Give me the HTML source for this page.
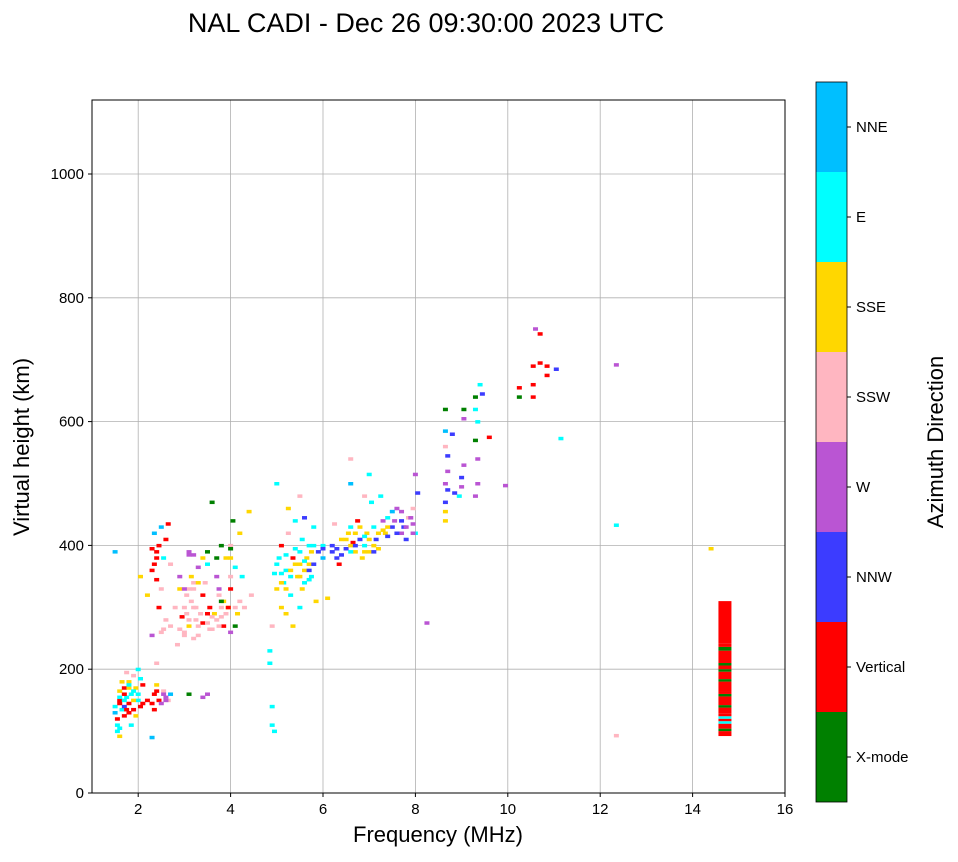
<!DOCTYPE html>
<html><head><meta charset="utf-8"><style>
body{margin:0;background:#fff;}
svg{font-family:"Liberation Sans","DejaVu Sans",sans-serif;}
</style></head><body>
<svg id="chart" width="958" height="857" xmlns="http://www.w3.org/2000/svg">
<text x="426" y="32" font-size="27" text-anchor="middle">NAL CADI - Dec 26 09:30:00 2023 UTC</text>
<g id="grid"></g>
<g id="marks"></g>
<rect x="92" y="100" width="693" height="693" fill="none" stroke="#000" stroke-width="1"/>
<g id="axes"></g>
<text x="438" y="842" font-size="22" text-anchor="middle">Frequency (MHz)</text>
<text transform="translate(29,447) rotate(-90)" font-size="22" text-anchor="middle">Virtual height (km)</text>
<g id="cbar"></g>
<text transform="translate(943,442) rotate(-90)" font-size="22" text-anchor="middle">Azimuth Direction</text>
</svg>
<script>
const dirLabels=["X-mode","Vertical","NNW","W","SSW","SSE","E","NNE"];
const dirColors=["#008000","#ff0000","#3c3cff","#ba55d3","#ffb6c1","#ffd700","#00ffff","#00bfff"];
const xTicks=[2,4,6,8,10,12,14,16];
const yTicks=[0,200,400,600,800,1000];
const freqs=[1.5,1.5,1.55,1.6,1.6,1.65,1.7,1.7,1.75,1.8,1.8,1.85,1.9,1.9,1.95,2.0,2.0,2.05,2.1,1.55,1.6,2.3,2.3,2.35,2.4,2.4,2.45,2.5,2.55,2.6,2.7,2.65,3.4,3.5,3.1,1.7,1.8,1.95,1.65,1.75,2.05,1.85,
2.35,2.4,2.45,2.5,2.55,2.6,2.65,2.7,2.3,2.4,2.5,2.45,2.5,2.7,2.3,2.2,2.05,1.5,2.8,2.9,2.95,3.0,3.05,3.1,3.1,3.2,3.25,3.3,3.3,3.4,3.45,3.5,3.55,3.6,3.65,3.7,3.75,3.8,3.85,3.9,3.95,4.0,4.0,4.05,4.1,4.15,4.2,4.25,4.3,3.6,3.2,3.4,2.85,4.4,4.45,4.0,3.85,2.9,
4.85,4.85,4.9,4.95,5.0,5.05,5.1,5.1,5.15,5.2,5.2,5.25,5.3,5.35,5.35,5.4,5.45,5.5,5.5,5.55,5.6,5.65,5.7,5.75,5.8,5.85,5.9,6.0,6.1,5.5,4.9,4.9,5.0,5.6,5.25,4.95,
6.2,6.3,6.35,6.4,6.5,6.55,6.6,6.65,6.7,6.75,6.8,6.85,6.9,6.95,7.0,7.05,7.1,7.15,7.2,7.3,7.35,7.4,7.5,7.6,7.7,7.8,7.85,7.95,8.0,7.95,8.0,6.6,6.6,6.9,7.0,7.25,7.5,8.05,8.25,6.25,
8.65,8.65,8.65,8.7,8.65,8.7,8.7,8.65,8.65,8.65,8.8,9.0,9.0,9.05,8.95,8.85,9.05,9.05,9.3,9.3,9.35,9.3,9.35,9.35,9.3,9.4,9.45,9.6,9.95,
10.25,10.25,10.55,10.55,10.55,10.6,10.7,10.7,10.85,10.85,11.05,11.15,12.35,12.35,12.35,14.4];
const heights=[130,140,120,150,165,135,170,125,155,180,145,160,190,135,170,150,200,140,175,100,92,90,145,160,210,175,150,145,165,155,160,150,155,160,160,140,130,125,180,195,185,110,
420,390,400,430,380,410,435,370,360,345,330,300,260,270,255,320,350,390,300,330,285,260,320,390,270,330,300,365,255,275,340,370,300,265,290,350,320,285,270,380,300,400,330,440,365,290,420,350,300,470,250,380,240,455,320,260,310,350,
210,230,270,355,330,380,300,400,340,290,360,420,320,380,270,440,350,300,370,410,340,380,400,350,430,310,390,380,315,480,140,110,500,445,460,100,
400,380,370,410,395,420,430,405,390,440,410,380,400,420,390,470,430,410,395,440,420,415,430,460,420,410,445,435,420,460,515,540,500,480,515,480,455,485,275,435,
440,455,470,490,500,520,545,560,585,620,580,495,510,530,480,485,620,605,640,620,600,570,540,500,480,660,645,575,497,
655,640,690,660,640,750,695,742,690,675,685,573,692,433,93,395];
const dirs=[7,6,1,1,5,6,1,1,6,5,1,6,4,1,5,6,6,1,1,6,5,7,1,1,4,5,1,3,4,3,7,4,3,3,0,2,1,5,5,4,6,6,
7,1,1,7,6,1,1,4,1,1,4,1,4,4,3,5,5,7,4,5,1,4,4,3,5,4,4,3,4,1,4,6,1,4,5,3,4,4,1,5,5,4,1,0,6,5,5,6,4,0,4,5,4,5,4,3,5,3,
6,6,4,6,5,6,5,1,6,5,6,4,6,1,5,6,5,6,5,6,6,5,6,6,6,5,2,7,5,4,6,6,6,2,5,6,
2,2,1,5,2,5,6,1,5,1,2,5,6,5,5,6,6,2,5,3,5,2,2,3,3,2,4,3,6,4,3,4,7,4,6,6,7,2,3,4,
5,5,2,2,3,3,2,4,7,0,2,3,2,3,6,2,0,3,0,6,6,0,3,3,3,6,2,1,3,
1,0,1,1,1,3,1,1,1,1,2,6,3,6,4,5];
const freqs2=[3.0,3.05,3.1,3.15,3.2,3.25,3.3,3.35,3.1,3.2,3.5,3.55,3.6,3.7,3.75,3.8,2.9,3.0,2.6,2.55,3.9,4.1,4.2,4.0,
2.4,2.35,2.3,3.4,3.5,3.95,1.6,1.7,1.75,2.1,2.2,2.4,2.35,
5.1,5.2,5.3,5.4,5.5,5.55,5.6,5.7,5.75,6.5,6.6,6.7,6.8,6.9,7.0,7.1,7.2,7.3,7.4,1.8,1.9,3.15,3.3,4.0,
5.0,5.1,5.2,5.3,5.4,5.5,5.6,5.7,5.8,6.0,6.6,6.9,7.4,1.6,1.7,1.8,1.9,2.0,1.55,1.6,
6.2,6.3,6.4,6.7,7.1,7.6,7.7,7.75,5.7,5.8,6.0,
7.7,7.8,7.9,7.95,7.55,3.1,3.2,2.6,2.55,3.75,3.0,
3.5,3.7,3.8,4.0,4.1,3.8];
const heights2=[300,290,280,310,300,280,270,290,330,340,275,265,285,280,270,300,265,255,280,265,290,300,310,350,
380,370,395,320,290,300,145,160,135,145,150,165,135,
340,330,360,370,350,330,360,370,390,410,400,420,430,390,410,400,420,425,430,170,150,350,340,380,
370,355,385,350,395,390,375,345,400,400,390,415,445,155,150,175,165,160,110,105,
390,395,385,400,390,420,440,430,360,370,395,
455,430,445,420,440,385,385,150,160,330,330,
390,380,400,395,270,310];
const dirs2=[4,4,4,4,4,4,4,4,4,4,4,4,4,4,4,4,4,4,4,4,4,4,4,4,
1,1,1,1,1,1,1,1,1,1,1,1,1,
5,5,5,5,5,5,5,5,5,5,5,5,5,5,5,5,5,5,5,5,5,5,5,5,
6,6,6,6,6,6,6,6,6,6,6,6,6,6,6,6,6,6,6,6,
2,2,2,2,2,2,2,2,2,2,2,
3,3,3,3,3,3,3,3,3,3,3,
0,0,0,0,0,0];
// vertical bar at 14.7 MHz: segment start/end heights and direction
const barStart=[92,100,104,112,116,120,124,128,138,142,156,160,164,180,184,196,200,206,210,230,236,242];
const barEnd=[100,104,112,116,120,124,128,138,142,156,160,164,180,184,196,200,206,210,230,236,242,310];
const barDir=[1,0,1,6,1,6,1,1,0,1,0,1,1,0,1,0,1,0,1,0,1,1];
const NS="http://www.w3.org/2000/svg";
const X=f=>92+(f-1)*46.2;
const Y=h=>793-h*0.619;
function mk(tag,attrs,parent){const e=document.createElementNS(NS,tag);for(const k in attrs)e.setAttribute(k,attrs[k]);parent.appendChild(e);return e;}
const grid=document.getElementById('grid'),axes=document.getElementById('axes'),marks=document.getElementById('marks'),cbar=document.getElementById('cbar');
xTicks.forEach(t=>{
 const g=mk('line',{x1:X(t),x2:X(t),y1:100,y2:793,stroke:'#b0b0b0','stroke-width':0.8},grid);
 
 
 mk('line',{x1:X(t),x2:X(t),y1:793,y2:797,stroke:'#000'},axes);
 const tx=mk('text',{x:X(t),y:814,'font-size':15,'text-anchor':'middle'},axes);
 tx.textContent=t;
 
 
});
yTicks.forEach(t=>{
 const g=mk('line',{x1:92,x2:785,y1:Y(t),y2:Y(t),stroke:'#b0b0b0','stroke-width':0.8},grid);
 
 
 mk('line',{x1:88,x2:92,y1:Y(t),y2:Y(t),stroke:'#000'},axes);
 const tx=mk('text',{x:84,y:Y(t)+5,'font-size':15,'text-anchor':'end'},axes);
 tx.textContent=t;
 
 
});
function drawPts(fs,hs,ds){
 fs.forEach((f,i)=>{
  const r=mk('rect',{x:X(f)-2.5,y:Y(hs[i])-1.5,width:5,height:3.5,fill:dirColors[ds[i]]},marks);
  
  
 });
}
drawPts(freqs,heights,dirs);
drawPts(freqs2,heights2,dirs2);
barStart.forEach((s,i)=>{
 const r=mk('rect',{x:X(14.7)-6.5,y:Y(barEnd[i]),width:13,height:Y(s)-Y(barEnd[i]),fill:dirColors[barDir[i]]},marks);
 
 
});
const cbTop=82,cbH=90;
dirLabels.forEach((l,i)=>{
 const y0=cbTop+(7-i)*cbH;
 const r=mk('rect',{x:816,y:y0,width:31,height:cbH,fill:dirColors[i]},cbar);
 
 
 mk('line',{x1:847,x2:851,y1:y0+cbH/2,y2:y0+cbH/2,stroke:'#000'},cbar);
 const tx=mk('text',{x:856,y:y0+cbH/2+5,'font-size':15},cbar);
 tx.textContent=l;
 
 
});
mk('rect',{x:816,y:82,width:31,height:720,fill:'none',stroke:'#000','stroke-width':0.8},cbar);
</script>
</body></html>
